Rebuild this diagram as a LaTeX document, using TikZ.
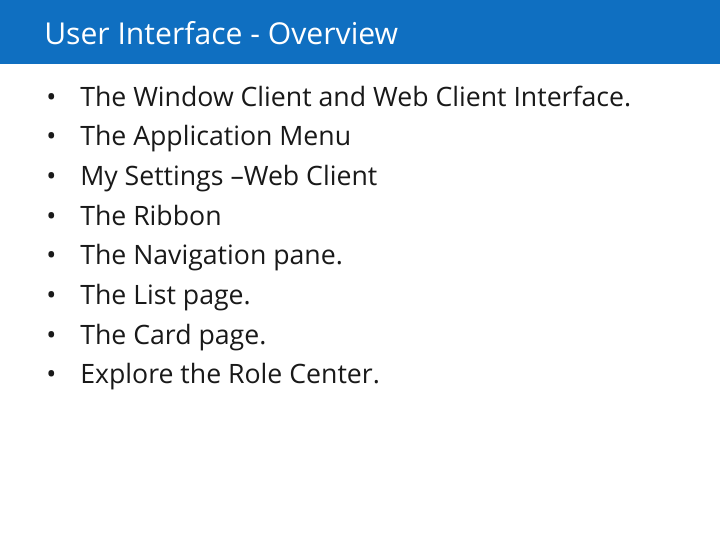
\documentclass[tikz,border=0pt]{standalone}
\usepackage{fontspec}
\setmainfont{Open Sans}
\definecolor{hdr}{HTML}{0F6FC1}
\begin{document}
\begin{tikzpicture}[x=0.75pt,y=-0.75pt,
  item/.style={anchor=base west,inner sep=0pt,font=\fontsize{20}{22}\selectfont,text=black!90}]
\useasboundingbox (0,0) rectangle (720,540);
\fill[white] (0,0) rectangle (720,540);
\fill[hdr] (0,0) rectangle (720,64);
\node[anchor=base west,inner sep=0pt,text=white,font=\fontsize{22.6}{26}\selectfont] (title) at (44,44) {User Interface - Overview};
\foreach \t [count=\i] in {The Window Client and Web Client Interface.,The Application Menu,My Settings –Web Client,The Ribbon,The Navigation pane.,The List page.,The Card page.,Explore the Role Center.}{
  \node[item] (b\i) at (46,{106+(\i-1)*39.7}) {•};
  \node[item] (t\i) at (80,{106+(\i-1)*39.7}) {\t};
}
\end{tikzpicture}
\end{document}
